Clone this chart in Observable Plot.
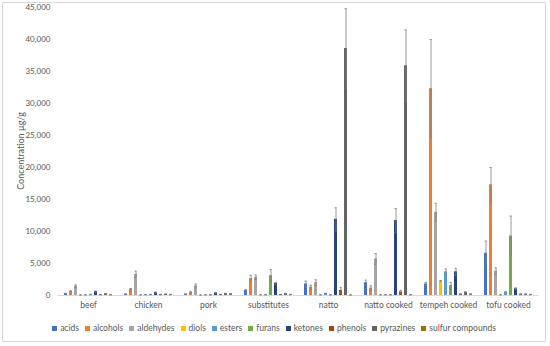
<!DOCTYPE html>
<html>
<head>
<meta charset="utf-8">
<script src="https://cdn.jsdelivr.net/npm/d3@7"></script>
<script src="https://cdn.jsdelivr.net/npm/@observablehq/plot@0.6"></script>
<style>
  html, body { margin: 0; padding: 0; background: #fff; }
  #frame { position: absolute; left: 2px; top: 2px; width: 544px; height: 340px; border: 1px solid #d9d9d9; box-sizing: border-box; }
  #chart { position: absolute; left: 0; top: 0; }
  #legend { position: absolute; left: 0; top: 323px; width: 548px; display: flex; justify-content: center; gap: 6px;
    font-family: Lato, "Liberation Sans", sans-serif; font-size: 8.5px; color: #595959; }
  #legend span.item { display: inline-flex; align-items: center; white-space: nowrap; }
  #legend span.sw { display: inline-block; width: 5px; height: 5px; margin-right: 3px; }
</style>
</head>
<body>
<div id="frame"></div>
<div id="chart"></div>
<div id="legend"></div>
<script>
const categories = ["beef", "chicken", "pork", "substitutes", "natto", "natto cooked", "tempeh cooked", "tofu cooked"];
const seriesNames = ["acids", "alcohols", "aldehydes", "diols", "esters", "furans", "ketones", "phenols", "pyrazines", "sulfur compounds"];
const colors = ["#4472C4", "#ED7D31", "#A5A5A5", "#FFC000", "#5B9BD5", "#70AD47", "#264478", "#9E480E", "#636363", "#997300"];
const yTicks = [0, 5000, 10000, 15000, 20000, 25000, 30000, 35000, 40000, 45000];

// values per series, in category order
const acids     = [300, 200, 200, 800, 1800, 2000, 1800, 6600];
const alcohols  = [650, 1000, 500, 2650, 1300, 1150, 32300, 17300];
const aldehydes = [1450, 3300, 1500, 2850, 2000, 5700, 13000, 3800];
const diols     = [80, 80, 60, 100, 100, 100, 2250, 100];
const esters    = [100, 120, 100, 100, 300, 100, 3700, 500];
const furans    = [150, 150, 100, 3100, 100, 100, 1550, 9300];
const ketones   = [600, 450, 400, 1900, 11900, 11700, 3700, 1050];
const phenols   = [120, 150, 150, 150, 800, 550, 200, 200];
const pyrazines = [250, 200, 300, 300, 38600, 35900, 500, 200];
const sulfur    = [100, 150, 250, 150, 50, 100, 200, 150];

// error (±) per series
const acidsErr     = [50, 40, 40, 100, 450, 400, 250, 1900];
const alcoholsErr  = [100, 100, 80, 500, 300, 350, 7700, 2700];
const aldehydesErr = [200, 500, 300, 350, 450, 850, 1400, 500];
const diolsErr     = [20, 20, 20, 20, 20, 20, 100, 20];
const estersErr    = [20, 20, 20, 20, 50, 20, 450, 80];
const furansErr    = [30, 30, 30, 950, 20, 20, 500, 3100];
const ketonesErr   = [100, 80, 80, 150, 1800, 1900, 550, 150];
const phenolsErr   = [30, 30, 30, 30, 450, 250, 50, 40];
const pyrazinesErr = [50, 40, 50, 50, 6200, 5600, 80, 40];
const sulfurErr    = [20, 30, 40, 30, 10, 20, 40, 30];

const valueArrays = [acids, alcohols, aldehydes, diols, esters, furans, ketones, phenols, pyrazines, sulfur];
const errArrays = [acidsErr, alcoholsErr, aldehydesErr, diolsErr, estersErr, furansErr, ketonesErr, phenolsErr, pyrazinesErr, sulfurErr];

const data = [];
categories.forEach((c, ci) => {
  seriesNames.forEach((s, si) => {
    const v = valueArrays[si][ci], e = errArrays[si][ci];
    data.push({cat: c, series: s, value: v, lo: Math.max(0, v - e), hi: v + e});
  });
});

const fontFam = 'Lato, "Liberation Sans", sans-serif';
const chart = Plot.plot({
  width: 550,
  height: 314,
  marginLeft: 58,
  marginRight: 12,
  marginTop: 7,
  marginBottom: 19,
  style: {fontFamily: fontFam, fontSize: "8px", color: "#595959", background: "transparent"},
  fx: {domain: categories, padding: 0, axis: "bottom", label: null, tickSize: 0, tickPadding: 6},
  x: {domain: seriesNames, axis: null, paddingInner: 0.33, paddingOuter: 0.8},
  y: {domain: [0, 45000], ticks: yTicks, tickFormat: d3.format(","), tickSize: 0, tickPadding: 8, label: null},
  color: {domain: seriesNames, range: colors},
  marks: [
    Plot.ruleY([0], {stroke: "#d9d9d9"}),
    Plot.barY(data, {fx: "cat", x: "series", y: "value", fill: "series"}),
    Plot.ruleX(data, {fx: "cat", x: "series", y1: "lo", y2: "hi", stroke: "#7f7f7f", strokeWidth: 0.8}),
    Plot.tickY(data, {fx: "cat", x: "series", y: "hi", stroke: "#7f7f7f", strokeWidth: 0.8, insetLeft: 0.5, insetRight: 0.5}),
    Plot.tickY(data, {fx: "cat", x: "series", y: "lo", stroke: "#7f7f7f", strokeWidth: 0.8, insetLeft: 0.5, insetRight: 0.5}),
    Plot.axisY({ticks: yTicks, tickFormat: d3.format(","), tickSize: 0, tickPadding: 8, label: null, fontSize: 8})
  ]
});
document.getElementById("chart").appendChild(chart);
d3.select(chart).selectAll('[aria-label="fx-axis tick label"] text, [aria-label="fx-axis tick label"]').style("font-size", "8.5px");

// Y axis title
const svg = d3.select(chart);
svg.append("text")
  .attr("transform", "translate(24,151) rotate(-90)")
  .attr("text-anchor", "middle")
  .attr("font-size", "9px")
  .attr("fill", "#595959")
  .attr("font-family", fontFam)
  .text("Concentration µg/g");

const legend = document.getElementById("legend");
seriesNames.forEach((s, i) => {
  const item = document.createElement("span");
  item.className = "item";
  const sw = document.createElement("span");
  sw.className = "sw";
  sw.style.background = colors[i];
  item.appendChild(sw);
  item.appendChild(document.createTextNode(s));
  legend.appendChild(item);
});
</script>
</body>
</html>
